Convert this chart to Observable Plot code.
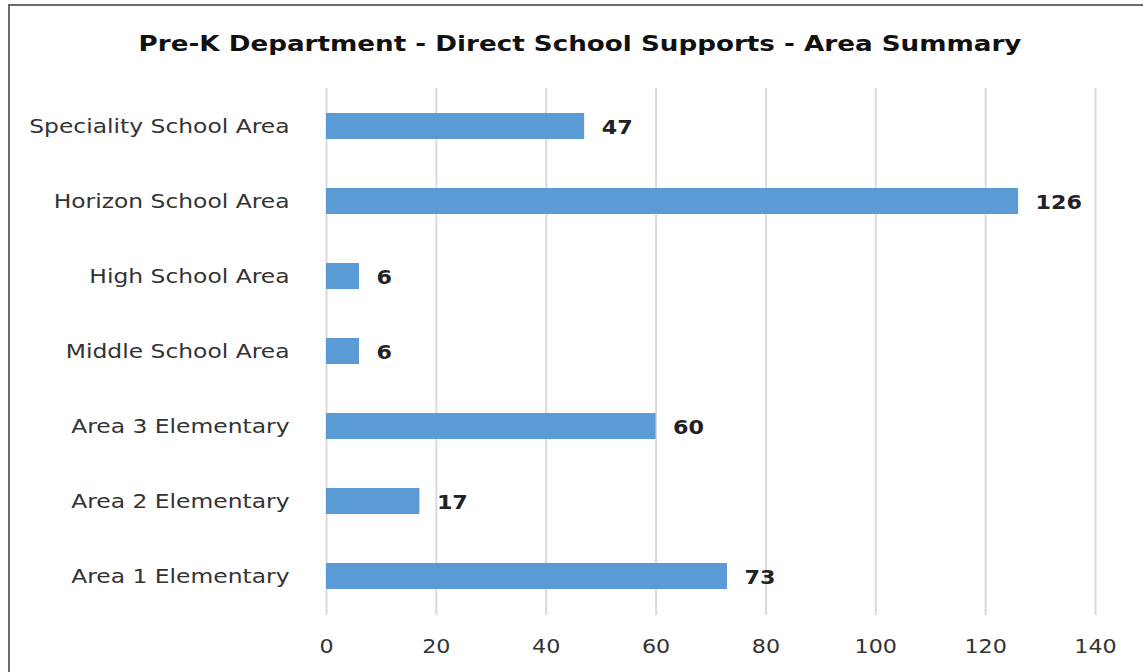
<!DOCTYPE html>
<html>
<head>
<meta charset="utf-8">
<script src="https://cdn.jsdelivr.net/npm/d3@7"></script>
<script src="https://cdn.jsdelivr.net/npm/@observablehq/plot@0.6"></script>
<style>
  html, body { margin: 0; padding: 0; background: #ffffff; overflow: hidden; }
  #frame {
    position: absolute; left: 8px; top: 4px; width: 1160px; height: 700px;
    border: 2px solid #6b6b6b; box-sizing: border-box; background: #fff;
  }
  #title {
    position: absolute; left: 0; top: 0; width: 1160px; height: 88px;
    text-align: center; font-family: "DejaVu Sans", sans-serif; font-weight: bold;
    font-size: 22px; line-height: 88px; color: #111;
    transform: scaleX(1.19); transform-origin: 580px 0;
  }
  #chart { position: absolute; left: 0; top: 0; }
</style>
</head>
<body>
<div id="frame"></div>
<div id="chart"></div>
<div id="title">Pre-K Department - Direct School Supports - Area Summary</div>
<script>
const categories = [
  "Speciality School Area",
  "Horizon School Area",
  "High School Area",
  "Middle School Area",
  "Area 3 Elementary",
  "Area 2 Elementary",
  "Area 1 Elementary"
];
const values = [47, 126, 6, 6, 60, 17, 73];
const xTicks = [0, 20, 40, 60, 80, 100, 120, 140];

const data = categories.map((c, i) => ({category: c, value: values[i]}));

const chart = Plot.plot({
  width: 1143,
  height: 672,
  marginTop: 88,
  marginBottom: 57,
  marginLeft: 326,
  marginRight: 48,
  style: {fontFamily: "DejaVu Sans, sans-serif", fontSize: "19px", color: "#404040", background: "transparent"},
  x: {domain: [0, 140], ticks: xTicks, label: null},
  y: {domain: categories, paddingInner: 0.65, paddingOuter: 0.325, label: null},
  marks: [
    Plot.ruleX(xTicks, {stroke: "#dadada", strokeWidth: 2}),
    Plot.barX(data, {x: "value", y: "category", fill: "#5b9bd5"}),
    Plot.text(data, {x: "value", y: "category", text: d => String(d.value), textAnchor: "start", dx: 17, dy: 1, fontWeight: "bold", fill: "#222", fontSize: 19}),
    Plot.axisX({ticks: xTicks, tickSize: 0, tickPadding: 24, fontSize: 19, fill: "#333"}),
    Plot.axisY({tickSize: 0, tickPadding: 37, fontSize: 20, fill: "#333"})
  ]
});
document.getElementById("chart").appendChild(chart);

// widen glyphs horizontally (reference text is horizontally stretched)
const sx = 1.17;
chart.querySelectorAll("text").forEach(t => {
  const len = t.getComputedTextLength();
  if (len > 0) {
    t.setAttribute("textLength", (len * sx).toFixed(2));
    t.setAttribute("lengthAdjust", "spacingAndGlyphs");
  }
});
</script>
</body>
</html>
